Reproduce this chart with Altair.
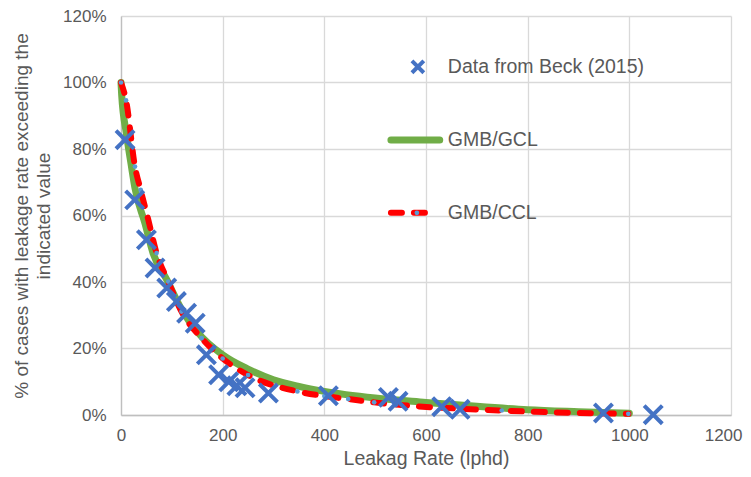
import altair as alt
import pandas as pd

# Data from Beck (2015): leakage rate (lphd) vs % exceeding
beck_x = [8, 27, 50, 67, 90, 109, 129, 146, 168, 192, 212, 228, 244, 290, 408, 526, 545, 631, 667, 949, 1047]
beck_y = [0.828, 0.647, 0.527, 0.442, 0.382, 0.341, 0.306, 0.276, 0.181, 0.121, 0.100, 0.088, 0.082, 0.066, 0.058, 0.053, 0.041, 0.025, 0.017, 0.006, 0.001]

# GMB/GCL curve
gcl_x = [0, 1.3, 11, 21, 27.5, 47, 63, 90, 120, 150, 200, 250, 300, 350, 400, 500, 600, 700, 800, 900, 1000]
gcl_y = [1.00, 0.963, 0.843, 0.743, 0.682, 0.577, 0.487, 0.407, 0.315, 0.25, 0.181, 0.138, 0.106, 0.086, 0.071, 0.051, 0.038, 0.026, 0.016, 0.010, 0.005]

# GMB/CCL curve (points carry the small markers)
ccl_x = [0, 10, 27.5, 38.7, 53.7, 70, 93, 119, 158.6, 200, 250, 347, 400, 447, 498, 749, 998]
ccl_y = [1.00, 0.946, 0.747, 0.677, 0.587, 0.487, 0.401, 0.311, 0.231, 0.170, 0.120, 0.071, 0.057, 0.048, 0.038, 0.0135, 0.0035]
ccl_marker_x = [0, 10, 27.5, 38.7, 70, 93, 119, 158.6, 200, 250, 347, 400, 447, 498, 749, 998]
ccl_marker_y = [1.00, 0.946, 0.747, 0.677, 0.487, 0.401, 0.311, 0.231, 0.170, 0.120, 0.071, 0.057, 0.048, 0.038, 0.0135, 0.0035]

series_names = ["Data from Beck (2015)", "GMB/GCL", "GMB/CCL"]
series_colors = ["#4472C4", "#70AD47", "#FF0000"]

# legend placement (in data units, inside the plot)
legend_label_x = 643
legend_row_y = [1.047, 0.827, 0.608]
legend_sym_x0 = [584, 531, 531]
legend_sym_x1 = [584, 627, 611]
legend_dot_x = 582

df_beck = pd.DataFrame({"x": beck_x, "y": beck_y})
df_gcl = pd.DataFrame({"x": gcl_x, "y": gcl_y})
df_ccl = pd.DataFrame({"x": ccl_x, "y": ccl_y})
df_mk = pd.DataFrame({"x": ccl_marker_x, "y": ccl_marker_y})
df_leg = pd.DataFrame({"label": series_names, "y": legend_row_y, "x": legend_sym_x0,
                       "x1": legend_sym_x1, "lx": [legend_label_x] * 3})

FONT = "Liberation Sans"
TXT = "#595959"
XPATH = "M-1,-1L1,1M1,-1L-1,1"

xscale = alt.Scale(domain=[0, 1200], nice=False)
yscale = alt.Scale(domain=[0, 1.2], nice=False)
xaxis = alt.Axis(values=[0, 200, 400, 600, 800, 1000, 1200], format="d", title="Leakag Rate (lphd)",
                 labelPadding=12, titlePadding=6, labelFlush=False,
                 labelAlign={"condition": {"test": "datum.value === 1200", "value": "right"}, "value": "center"},
                 labelOffset={"condition": {"test": "datum.value === 1200", "value": 11}, "value": 0})
yaxis = alt.Axis(values=[0, 0.2, 0.4, 0.6, 0.8, 1.0, 1.2], format=".0%",
                 title=["% of cases with leakage rate exceeding the", "indicated value"],
                 labelPadding=15, titlePadding=9, labelFlush=False, titleFontSize=19)
xs = alt.X("x:Q", scale=xscale, axis=xaxis)
ys = alt.Y("y:Q", scale=yscale, axis=yaxis)

gcl = alt.Chart(df_gcl).mark_line(strokeWidth=7, interpolate="monotone", strokeCap="round",
                                  color=series_colors[1]).encode(x=xs, y=ys)
ccl = alt.Chart(df_ccl).mark_line(strokeWidth=6, interpolate="monotone", strokeDash=[11, 12],
                                  strokeCap="round", color=series_colors[2]).encode(x=xs, y=ys)
mk = alt.Chart(df_mk).mark_circle(size=22, color="#5B9BD5", opacity=1).encode(x=xs, y=ys)
beck = alt.Chart(df_beck).mark_point(shape=XPATH, filled=False, size=330, strokeWidth=4, opacity=1,
                                     color=series_colors[0]).encode(x=xs, y=ys)

# legend layers
leg_text = alt.Chart(df_leg).mark_text(align="left", baseline="middle", font=FONT, fontSize=19.5,
                                       color=TXT).encode(
    x=alt.X("lx:Q", scale=xscale, axis=xaxis), y=ys, text="label:N")
leg_cross = alt.Chart(df_leg.iloc[[0]]).mark_point(shape=XPATH, filled=False, size=140, strokeWidth=4,
                                                   opacity=1, color=series_colors[0]).encode(x=xs, y=ys)
leg_green = alt.Chart(df_leg.iloc[[1]]).mark_rule(strokeWidth=7, strokeCap="round",
                                                  color=series_colors[1]).encode(x=xs, x2="x1:Q", y=ys)
leg_red = alt.Chart(df_leg.iloc[[2]]).mark_rule(strokeWidth=6, strokeCap="round", strokeDash=[11, 12],
                                                color=series_colors[2]).encode(x=xs, x2="x1:Q", y=ys)
leg_dot = alt.Chart(df_leg.iloc[[2]].assign(dx=legend_dot_x)).mark_circle(
    size=22, color="#5B9BD5", opacity=1).encode(x=alt.X("dx:Q", scale=xscale, axis=xaxis), y=ys)

chart = alt.layer(gcl, ccl, mk, beck, leg_text, leg_cross, leg_green, leg_red, leg_dot).properties(
    width=610, height=399,
    autosize=alt.AutoSizeParams(type="none"),
    padding={"left": 113, "top": 8, "right": 12, "bottom": 54},
).configure_view(stroke=None).configure_axis(
    grid=True, gridColor="#D9D9D9", gridWidth=1.3,
    domainColor="#BFBFBF", domainWidth=1.3,
    ticks=False, tickSize=0,
    labelFont=FONT, labelFontSize=17, labelColor=TXT,
    titleFont=FONT, titleFontSize=19.5, titleColor=TXT, titleFontWeight="normal",
    titleLineHeight=22,
)

chart.save("out.html", embed_options={"renderer": "svg", "actions": False})
